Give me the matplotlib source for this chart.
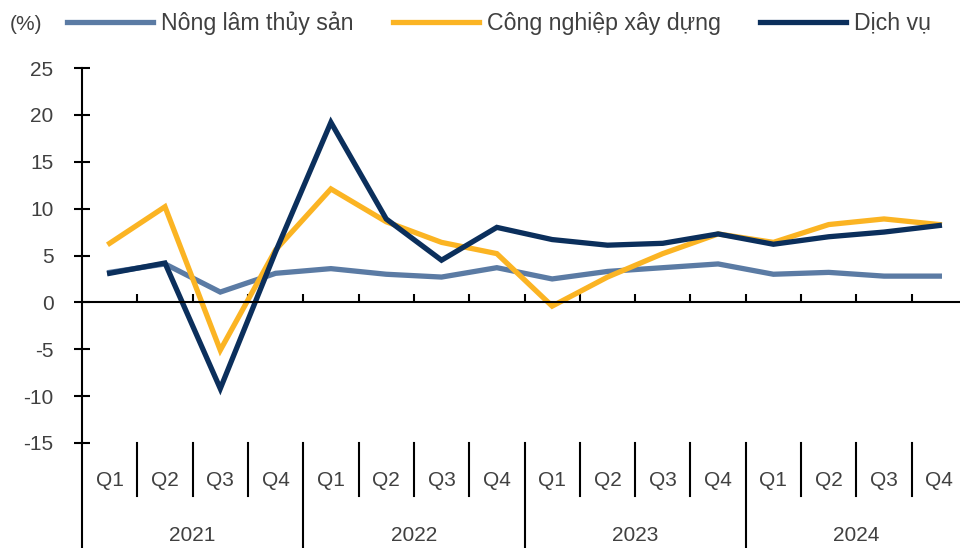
import numpy as np
import matplotlib
matplotlib.use("Agg")
import matplotlib.pyplot as plt
from matplotlib.lines import Line2D

plt.rcParams['font.family'] = ['Liberation Sans Narrow', 'Liberation Sans', 'DejaVu Sans']
plt.rcParams['axes.unicode_minus'] = False

years = ["2021", "2022", "2023", "2024"]
quarters = ["Q1", "Q2", "Q3", "Q4"]
series_names = ["Nông lâm thủy sản", "Công nghiệp xây dựng", "Dịch vụ"]

nong_lam = [3.2, 4.1, 1.1, 3.1, 3.6, 3.0, 2.7, 3.7, 2.5, 3.3, 3.7, 4.1, 3.0, 3.2, 2.8, 2.8]
cong_nghiep = [6.3, 10.2, -5.1, 5.6, 12.1, 8.6, 6.4, 5.2, -0.4, 2.7, 5.2, 7.3, 6.4, 8.3, 8.9, 8.3]
dich_vu = [3.1, 4.2, -9.2, 5.4, 19.2, 8.9, 4.5, 8.0, 6.7, 6.1, 6.3, 7.3, 6.2, 7.0, 7.5, 8.2]

colors = ["#5B7BA4", "#FBB423", "#0B2F5C"]
text_color = "#404040"

fig = plt.figure(figsize=(9.6, 5.48), dpi=100)
W, H = 960, 548
ax = fig.add_axes([82 / W, 105 / H, 885 / W, 375 / H])

x = np.arange(len(nong_lam))
for vals, c, name in zip([nong_lam, cong_nghiep, dich_vu], colors, series_names):
    ax.plot(x, vals, color=c, lw=3.8, label=name, solid_joinstyle="miter")

ax.set_xlim(-0.5, 15.5)
ax.set_ylim(-15, 25)
ax.set_yticks(np.arange(-15, 26, 5))
ax.tick_params(axis="y", direction="inout", length=12, width=1.5, pad=14.5,
               labelsize=15, labelcolor=text_color)
ax.set_xticks(np.arange(0.5, 15, 1))
ax.tick_params(axis="x", direction="in", length=6, width=1.5, labelbottom=False)

for s in ["top", "right"]:
    ax.spines[s].set_visible(False)
ax.spines["bottom"].set_position(("data", 0))
ax.spines["left"].set_linewidth(1.5)
ax.spines["bottom"].set_linewidth(1.5)

# category axis below the plot
q_sep_bottom = -20.7
fig_bottom = -26.3
for i in range(16):
    ax.text(i, -19.0, quarters[i % 4], ha="center", va="center",
            fontsize=15, color=text_color, clip_on=False)
    if i % 4 != 0:
        ax.plot([i - 0.5, i - 0.5], [-15, q_sep_bottom], color="black", lw=1.5, clip_on=False)
for k, yr in enumerate(years):
    ax.plot([4 * k - 0.5, 4 * k - 0.5], [-15, fig_bottom], color="black", lw=1.5, clip_on=False)
    ax.text(4 * k + 1.5, -24.9, yr, ha="center", va="center",
            fontsize=15, color=text_color, clip_on=False)

fig.text(10 / W, 1 - 24 / H, "(%)", ha="left", va="center", fontsize=15, color=text_color)
handles = [Line2D([], [], color=c, lw=3.8) for c in colors]
fig.legend(handles, series_names, loc="center left", bbox_to_anchor=(67 / W, 1 - 23 / H),
           ncol=3, frameon=False, fontsize=16.7, handlelength=3.7, handletextpad=0.35,
           columnspacing=1.7, labelcolor=text_color, borderaxespad=0, borderpad=0)

fig.savefig("out.png", dpi=100)
